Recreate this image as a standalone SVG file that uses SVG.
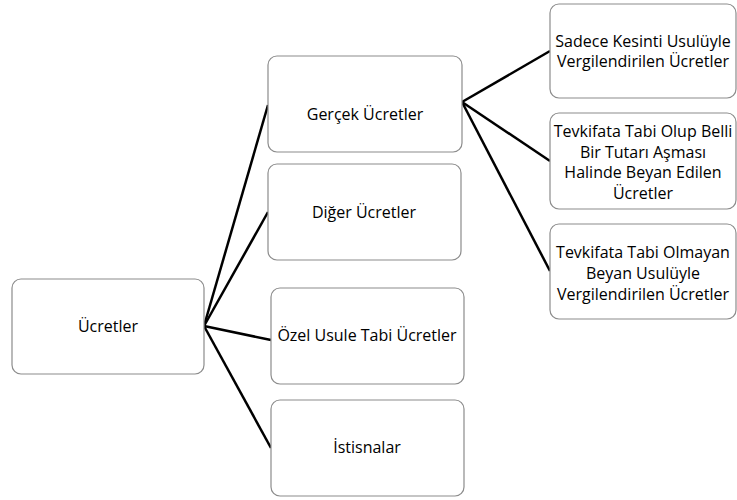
<svg xmlns="http://www.w3.org/2000/svg" width="737" height="500" viewBox="0 0 737 500">
  <style>
    .box { fill: #ffffff; stroke: #8c8c8c; stroke-width: 1.2; }
    .lbl { font-family: "Open Sans", "Liberation Sans", sans-serif; font-size: 16px; fill: #000000; text-anchor: middle; }
    .edge { stroke: #000000; stroke-width: 2.5; fill: none; }
  </style>
  <rect width="737" height="500" fill="#ffffff"/>
  <g id="connectors">
    <line class="edge" x1="204" y1="326" x2="268" y2="105"/>
    <line class="edge" x1="204" y1="326" x2="268" y2="212"/>
    <line class="edge" x1="204" y1="326" x2="271" y2="340"/>
    <line class="edge" x1="204" y1="326" x2="271" y2="448"/>
    <line class="edge" x1="462" y1="102" x2="550" y2="51"/>
    <line class="edge" x1="462" y1="102" x2="550" y2="161"/>
    <line class="edge" x1="462" y1="102" x2="550" y2="271"/>
  </g>
  <g id="node-ucretler">
    <rect class="box" x="12" y="279" width="192" height="95" rx="9"/>
    <text class="lbl" x="108" y="332">Ücretler</text>
  </g>
  <g id="node-gercek">
    <rect class="box" x="268" y="56" width="194" height="96" rx="9"/>
    <text class="lbl" x="365" y="120">Gerçek Ücretler</text>
  </g>
  <g id="node-diger">
    <rect class="box" x="268" y="164" width="193" height="96" rx="9"/>
    <text class="lbl" x="364" y="218">Diğer Ücretler</text>
  </g>
  <g id="node-ozel">
    <rect class="box" x="271" y="288" width="193" height="96" rx="9"/>
    <text class="lbl" x="367" y="341">Özel Usule Tabi Ücretler</text>
  </g>
  <g id="node-istisnalar">
    <rect class="box" x="271" y="400" width="193" height="96" rx="9"/>
    <text class="lbl" x="367" y="453">İstisnalar</text>
  </g>
  <g id="node-sadece">
    <rect class="box" x="550" y="4" width="186" height="94" rx="9"/>
    <text class="lbl" x="643" y="47">Sadece Kesinti Usulüyle</text>
    <text class="lbl" x="643" y="67">Vergilendirilen Ücretler</text>
  </g>
  <g id="node-tevkifata-belli">
    <rect class="box" x="550" y="113" width="186" height="96" rx="9"/>
    <text class="lbl" x="643" y="137">Tevkifata Tabi Olup Belli</text>
    <text class="lbl" x="643" y="158">Bir Tutarı Aşması</text>
    <text class="lbl" x="643" y="178">Halinde Beyan Edilen</text>
    <text class="lbl" x="643" y="199">Ücretler</text>
  </g>
  <g id="node-tevkifata-olmayan">
    <rect class="box" x="550" y="224" width="186" height="95" rx="9"/>
    <text class="lbl" x="643" y="258">Tevkifata Tabi Olmayan</text>
    <text class="lbl" x="643" y="279">Beyan Usulüyle</text>
    <text class="lbl" x="643" y="300">Vergilendirilen Ücretler</text>
  </g>
</svg>
